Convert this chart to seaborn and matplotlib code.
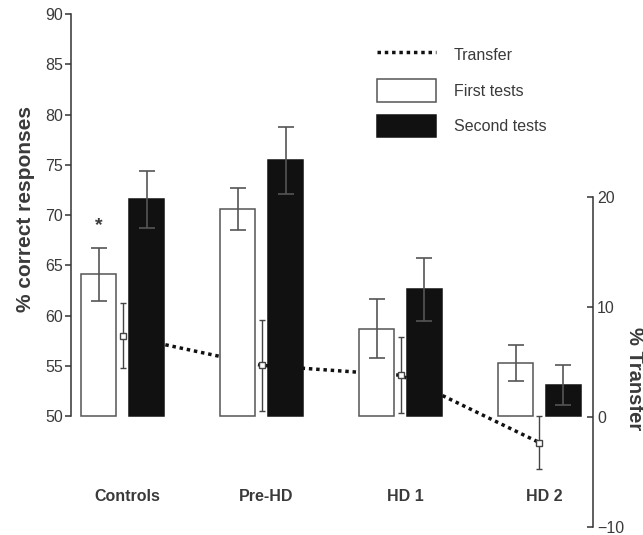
import numpy as np
import pandas as pd
import matplotlib
matplotlib.use("Agg")
import matplotlib.pyplot as plt
import seaborn as sns
from matplotlib.lines import Line2D
from matplotlib.patches import Patch

groups = ["Controls", "Pre-HD", "HD 1", "HD 2"]
first_tests = [64.1, 70.6, 58.7, 55.25]
first_err = [2.65, 2.06, 2.95, 1.77]
second_tests = [71.55, 75.45, 62.6, 53.05]
second_err = [2.8, 3.35, 3.1, 2.0]
transfer = [7.4, 4.7, 3.8, -2.33]
transfer_err = [2.93, 4.15, 3.43, 2.42]
left_ticks = [50, 55, 60, 65, 70, 75, 80, 85, 90]
right_ticks = [-10, 0, 10, 20]
hue_names = ["First tests", "Second tests"]

sns.set_theme(style="ticks")
plt.rcParams["font.family"] = ["Liberation Sans", "DejaVu Sans"]

GRAY = "#555555"
TXT = "#3a3a3a"

fig = plt.figure(figsize=(6.43, 5.35), dpi=100)
ax = fig.add_axes([71 / 643, 8 / 535, (593 - 71) / 643, (527 - 14) / 535])
ax2 = ax.twinx()
ax.set_zorder(2)
ax2.set_zorder(1)
ax.patch.set_visible(False)

base = 50
df = pd.DataFrame({
    "group": groups * 2,
    "test": [hue_names[0]] * 4 + [hue_names[1]] * 4,
    "value": first_tests + second_tests,
})
df["height"] = df["value"] - base

sns.barplot(data=df, x="group", y="height", hue="test", order=groups,
            hue_order=hue_names,
            palette={hue_names[0]: "white", hue_names[1]: "#111111"},
            saturation=1, width=0.69, gap=0.27, bottom=base,
            linewidth=1.1, errorbar=None, legend=False, ax=ax)

first_p = [p for p in ax.patches if p.get_facecolor()[0] > 0.5]
second_p = [p for p in ax.patches if p.get_facecolor()[0] <= 0.5]
first_p.sort(key=lambda p: p.get_x())
second_p.sort(key=lambda p: p.get_x())
for p in first_p:
    p.set_edgecolor(GRAY)
for p in second_p:
    p.set_edgecolor("#111111")

fx = [p.get_x() + p.get_width() / 2 for p in first_p]
sx = [p.get_x() + p.get_width() / 2 for p in second_p]
ax.errorbar(fx, first_tests, yerr=first_err, fmt="none", ecolor=GRAY,
            elinewidth=1.2, capsize=6, capthick=1.2, zorder=3)
ax.errorbar(sx, second_tests, yerr=second_err, fmt="none", ecolor=GRAY,
            elinewidth=1.2, capsize=6, capthick=1.2, zorder=3)

xpos = np.arange(len(groups))
sns.lineplot(x=xpos, y=transfer, ax=ax2, color="#111111", lw=2.5,
             dashes=False, zorder=1).lines[0].set_linestyle((0, (1, 1.1)))
ax2.errorbar(xpos, transfer, yerr=transfer_err, fmt="s", mfc="white",
             mec="#444444", mew=1.0, ms=5, ecolor="#444444", elinewidth=1.0,
             capsize=2.5, capthick=1.0, zorder=3)

ax.set_xlim(-0.371, 3.385)
ax.set_ylim(38.96, 90)
ax2.set_ylim(-10, 36.64)

ax.set_yticks(left_ticks)
ax2.set_yticks(right_ticks)
ax.set_xticks([])
ax2.set_xticks([])
ax.set_xlabel("")

for s in ["top", "right", "bottom"]:
    ax.spines[s].set_visible(False)
for s in ["top", "left", "bottom"]:
    ax2.spines[s].set_visible(False)
ax.spines["left"].set_bounds(50, 90)
ax2.spines["right"].set_bounds(-10, 20)
for sp in (ax.spines["left"], ax2.spines["right"]):
    sp.set_color("#333333")
    sp.set_linewidth(1.1)

ax.tick_params(axis="y", direction="out", length=4.5, width=1.1,
               color="#333333", labelcolor=TXT, labelsize=11.5, pad=1.5)
ax2.tick_params(axis="y", direction="in", length=4.5, width=1.1,
                color="#333333", labelcolor=TXT, labelsize=11.5, pad=3)

ax.set_ylabel("% correct responses", fontsize=15, fontweight="bold", color=TXT)
ax.yaxis.set_label_coords(-0.069, 0.62)
ax2.set_ylabel("% Transfer", fontsize=14.5, fontweight="bold", color=TXT,
               rotation=270, va="bottom")
ax2.yaxis.set_label_coords(1.062, 0.29)

for i, g in enumerate(groups):
    ax.text(i + 0.035, 42.04, g, ha="center", va="center", fontsize=11.5,
            fontweight="bold", color=TXT)

ax.text(fx[0], 68.9, "*", ha="center", va="center", fontsize=14,
        fontweight="bold", color=TXT)

handles = [
    Line2D([0], [0], color="#111111", lw=2.5, linestyle=(0, (1, 1.1))),
    Patch(facecolor="white", edgecolor=GRAY, linewidth=1.1),
    Patch(facecolor="#111111", edgecolor="#111111", linewidth=1.1),
]
ax.legend(handles, ["Transfer"] + hue_names, loc="upper left",
          bbox_to_anchor=(377 / 643, 1 - 44 / 535),
          bbox_transform=fig.transFigure, frameon=False, fontsize=11.5,
          handlelength=3.7, handleheight=1.8, handletextpad=1.1,
          labelspacing=0.8, borderpad=0, borderaxespad=0, labelcolor=TXT)

fig.savefig("out.png", dpi=100)
